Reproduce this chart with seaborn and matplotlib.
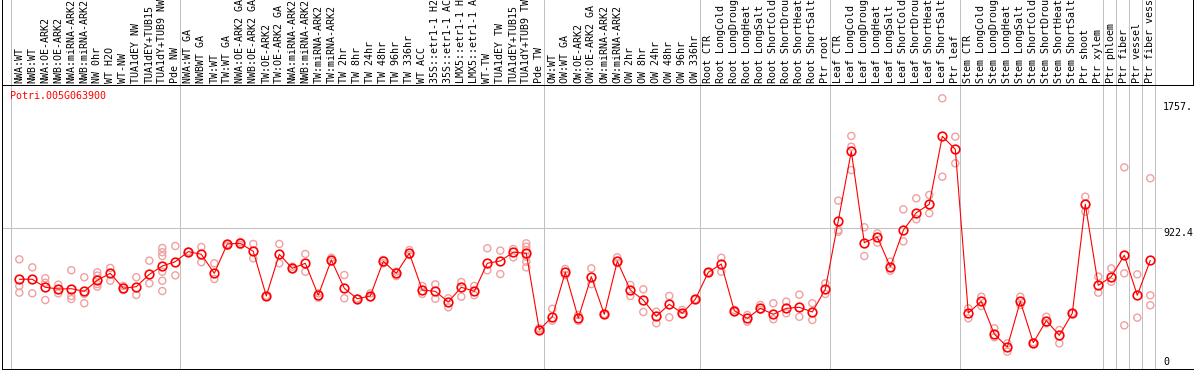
import matplotlib
matplotlib.use("Agg")
import matplotlib.pyplot as plt
import seaborn as sns
import pandas as pd

categories = [
    "NWA:WT", "NWB:WT", "NWA:OE-ARK2", "NWB:OE-ARK2", "NWA:miRNA-ARK2", "NWB:miRNA-ARK2",
    "NW 0hr", "WT H2O", "WT-NW", "TUA1dEY NW", "TUA1dEY+TUB15", "TUA1dY+TUB9 NW", "Pde NW",
    "NWA:WT GA", "NWBWT GA", "TW:WT", "TW:WT GA", "NWA:OE-ARK2 GA", "NWB:OE-ARK2 GA",
    "TW:OE-ARK2", "TW:OE-ARK2 GA", "NWA:miRNA-ARK2", "NWB:miRNA-ARK2", "TW:miRNA-ARK2",
    "TW:miRNA-ARK2", "TW 2hr", "TW 8hr", "TW 24hr", "TW 48hr", "TW 96hr", "TW 336hr",
    "WT ACC", "35S::etr1-1 H2", "35S::etr1-1 AC", "LMX5::etr1-1 H", "LMX5::etr1-1 A",
    "WT-TW", "TUA1dEY TW", "TUA1dEY+TUB15", "TUA1dY+TUB9 TW", "Pde TW",
    "OW:WT", "OW:WT GA", "OW:OE-ARK2", "OW:OE-ARK2 GA", "OW:miRNA-ARK2", "OW:miRNA-ARK2",
    "OW 2hr", "OW 8hr", "OW 24hr", "OW 48hr", "OW 96hr", "OW 336hr",
    "Root CTR", "Root LongCold", "Root LongDroug", "Root LongHeat", "Root LongSalt",
    "Root ShortCold", "Root ShortDrou", "Root ShortHeat", "Root ShortSalt", "Ptr root",
    "Leaf CTR", "Leaf LongCold", "Leaf LongDroug", "Leaf LongHeat", "Leaf LongSalt",
    "Leaf ShortCold", "Leaf ShortDrou", "Leaf ShortHeat", "Leaf ShortSalt", "Ptr leaf",
    "Stem CTR", "Stem LongCold", "Stem LongDroug", "Stem LongHeat", "Stem LongSalt",
    "Stem ShortCold", "Stem ShortDrou", "Stem ShortHeat", "Stem ShortSalt",
    "Ptr shoot", "Ptr xylem", "Ptr phloem", "Ptr fiber", "Ptr vessel", "Ptr fiber vess",
]

mean_values = [
    572, 572, 517, 505, 507, 489, 565, 613, 510, 521, 606, 663, 693,
    762, 744, 613, 815, 819, 764, 457, 744, 647, 682, 462, 705, 510, 438, 457, 696, 613,
    751, 498, 489, 416, 517, 489, 682, 698, 758, 751, 223,
    314, 620, 305, 590, 331, 696, 498, 429, 317, 400, 338, 434,
    620, 677, 356, 303, 372, 331, 372, 379, 347, 503,
    975, 1452, 824, 863, 658, 909, 1030, 1088, 1556, 1466,
    340, 420, 195, 106, 420, 136, 287, 186, 338, 1088, 530,
    590, 737, 462, 702,
]

replicate_values = [
    [709, 526, 480], [654, 475], [579, 548, 429], [535, 475], [634, 457, 436],
    [586, 471, 407], [620, 597, 539, 521], [650, 562], [526, 498], [586, 464],
    [700, 544], [787, 758, 732, 624, 562, 491], [801, 599],
    [762, 762], [794, 689], [682, 574], [815, 801], [828, 808], [815, 716],
    [457, 457], [815, 682], [658, 641], [746, 624], [475, 445], [720, 693],
    [601, 441], [438, 438], [475, 448], [705, 682], [624, 594],
    [773, 739], [526, 471], [537, 438], [441, 379], [553, 452], [526, 462],
    [785, 634], [769, 608], [780, 723], [819, 796, 773, 727, 693, 654], [235, 223],
    [369, 287], [643, 601], [326, 285], [647, 539], [331, 331], [723, 682],
    [533, 457], [503, 347], [349, 269], [457, 310], [361, 331], [434, 434],
    [620, 620], [720, 624], [361, 349], [326, 280], [395, 361], [407, 297],
    [418, 338], [466, 314], [407, 292], [544, 471],
    [1113, 911, 899], [1558, 1484, 1323], [930, 732], [888, 824], [693, 631],
    [1053, 833], [1129, 985], [1152, 1026], [1817, 1278], [1553, 1370],
    [372, 303], [452, 388], [235, 173], [131, 74], [452, 395], [136, 136],
    [314, 269], [223, 131], [338, 338], [1140, 1037], [590, 480],
    [647, 555], [1342, 613, 255], [606, 308], [1267, 462, 393],
]

group_starts = [0, 13, 41, 53, 63, 73, 84, 85, 86, 87, 88]
gene_name = "Potri.005G063900"
axis_labels = ["0", "922.4", "1757."]
axis_label_values = [0, 922.4, 1757]

# ---- data frames ----
pos = list(range(len(categories)))
df_mean = pd.DataFrame({"pos": pos, "value": mean_values})
rep_rows = [(i, v) for i, reps in enumerate(replicate_values) for v in reps]
df_rep = pd.DataFrame(rep_rows, columns=["pos", "value"])

sns.set_style("white")
plt.rcParams["font.family"] = ["DejaVu Sans Mono"]

W, H = 1194, 370
fig = plt.figure(figsize=(W / 100, H / 100), dpi=100)

left_px, right_px = 1.5, 1193
sep_px, bottom_px = 85, 369
ax = fig.add_axes([left_px / W, (H - bottom_px) / H, (right_px - left_px) / W, (bottom_px - sep_px) / H])
axl = fig.add_axes([left_px / W, (H - sep_px) / H, (right_px - left_px) / W, sep_px / H])

x0, step = 19.3, 13.0
xlim = ((left_px - x0) / step, (right_px - x0) / step)
y0px, scale = 362.4, 0.14534
ylim = ((y0px - bottom_px) / scale, (y0px - sep_px) / scale)

for a in (ax, axl):
    a.set_xlim(*xlim)
    a.set_xticks([])
    a.set_yticks([])
    a.set_facecolor("white")
ax.set_ylim(*ylim)
axl.set_ylim(0, 1)

lw_px = 0.72
for name, sp in ax.spines.items():
    sp.set_visible(name in ("left", "bottom"))
    sp.set_color("black")
    sp.set_linewidth(lw_px)
for name, sp in axl.spines.items():
    sp.set_visible(name in ("left", "bottom", "right"))
    sp.set_color("black")
    sp.set_linewidth(lw_px)

grey = "#c0c0c0"
for b in group_starts:
    xs = b - 0.615
    ax.axvline(xs, color=grey, lw=lw_px, zorder=1)
    axl.axvline(xs, color=grey, lw=lw_px, zorder=1)

x_grid_end = (1162 - x0) / step
ax.hlines(922.4, xlim[0], x_grid_end, color=grey, lw=lw_px, zorder=1)

sns.scatterplot(data=df_rep, x="pos", y="value", ax=ax, marker="o",
                facecolors="none", edgecolor="#f0a0a0", s=26, linewidth=1.0,
                zorder=2, legend=False)
sns.lineplot(data=df_mean, x="pos", y="value", ax=ax, color="red", lw=0.8,
             marker="o", markersize=6.2, markerfacecolor="none",
             markeredgecolor="red", markeredgewidth=1.2, zorder=3,
             legend=False)
ax.set_xlabel("")
ax.set_ylabel("")

ax.text((10 - left_px) / (right_px - left_px), (bottom_px - 96) / (bottom_px - sep_px),
        gene_name, transform=ax.transAxes, color="red", fontsize=7.2,
        ha="left", va="center")

x_lab = (1163 - x0) / step
for lab, v in zip(axis_labels, axis_label_values):
    va = "top" if lab == "922.4" else "center"
    ax.text(x_lab, v, lab, color="black", fontsize=7.2, ha="left", va=va, clip_on=False)

lab_y = (sep_px - 83.3) / sep_px
for i, lab in enumerate(categories):
    axl.text(i, lab_y, lab, rotation=90, ha="center", va="bottom",
             fontsize=7.2, color="black", clip_on=True)

fig.savefig("out.png", dpi=100, facecolor="white")
